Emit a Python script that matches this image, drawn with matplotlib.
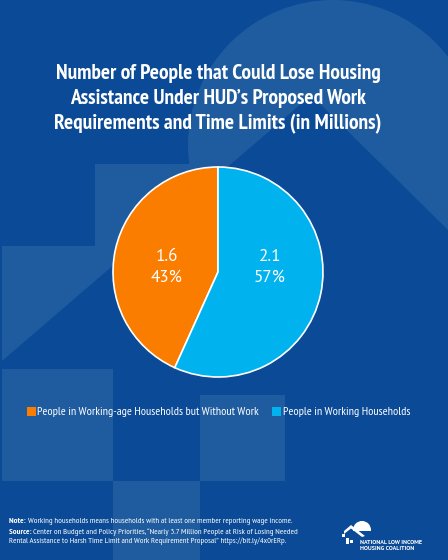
import matplotlib
matplotlib.use("Agg")
import matplotlib.pyplot as plt
from matplotlib import font_manager
from matplotlib.patches import Rectangle, Circle, Polygon, Patch

# ---- data ----
categories = ["People in Working-age Households but Without Work",
              "People in Working Households"]
values = [1.6, 2.1]
pct_labels = ["43%", "57%"]
colors = ["#FA7D00", "#00B3EF"]

title = ("Number of People that Could Lose Housing\n"
         "Assistance Under HUD\u2019s Proposed Work\n"
         "Requirements and Time Limits (in Millions)")
note_head = "Note:"
note_body = "Working households means households with at least one member reporting wage income."
source_head = "Source:"
source_body1 = "Center on Budget and Policy Priorities, \u201cNearly 3.7 Million People at Risk of Losing Needed"
source_body2 = "Rental Assistance to Harsh Time Limit and Work Requirement Proposal\u201d https://bit.ly/4x0rERp."
logo_lines = ["NATIONAL LOW INCOME", "HOUSING COALITION"]

names = {f.name for f in font_manager.fontManager.ttflist}
NARROW = ["PT Sans Narrow" if "PT Sans Narrow" in names else "Roboto", "DejaVu Sans"]
REGULAR = ["PT Sans" if "PT Sans" in names else "Roboto", "DejaVu Sans"]

BASE = "#0a4a97"
LIGHT = "#1e5b9f"

W, H = 448, 560
fig = plt.figure(figsize=(W / 100, H / 100), dpi=100, facecolor=BASE)
renderer = fig.canvas.get_renderer()


def fy(y):
    return 1 - y / H


def width_px(t):
    return t.get_window_extent(renderer).width


def fit(t, target):
    for _ in range(2):
        t.set_fontsize(t.get_fontsize() * target / width_px(t))


# ---- background decoration (pixel coordinates) ----
bg = fig.add_axes([0, 0, 1, 1])
bg.set_xlim(0, W)
bg.set_ylim(H, 0)
bg.axis("off")
bg.add_patch(Rectangle((0, 0), W, H, color=BASE, zorder=0))
bg.add_patch(Circle((333, 145), 145, color=LIGHT, zorder=1, lw=0))
bg.add_patch(Rectangle((95, 164), 240, 400, color=LIGHT, zorder=1, lw=0))
bg.add_patch(Rectangle((2, 246), 100, 320, color=LIGHT, zorder=1, lw=0))

LS = 0.86    # left roof leg: y = 361 - LS*(x-2)
RS = 0.986   # right roof leg: y = 230 - RS*(448-x)


def left_leg(x):
    return 361 - LS * (x - 2)


def right_leg(x):
    return 230 - RS * (448 - x)


apex_x = (361 + LS * 2 - 230 + RS * 448) / (LS + RS)
apex = (apex_x, left_leg(apex_x))
bg.add_patch(Polygon([apex, (470, right_leg(470)), (470, 600), (-10, 600),
                      (-10, left_leg(-10))], closed=True, color=BASE, zorder=2, lw=0))
for (x0, y0, x1, y1) in [(2, 369, 113, 481), (113, 481, 200, 562), (200, 395, 285, 481)]:
    bg.add_patch(Rectangle((x0, y0), x1 - x0, y1 - y0, color=LIGHT, zorder=3, lw=0))

# ---- logo ----
bg.add_patch(Circle((362, 530), 9, color="white", zorder=4, lw=0))
bg.add_patch(Polygon([(351, 531), (375, 531), (375, 545), (351, 545)], closed=True,
                     color=BASE, zorder=4.5, lw=0))
bg.add_patch(Polygon([(351, 525), (365, 536), (362, 537), (351, 528.5), (344, 534), (344, 531)],
                     closed=True, color="white", zorder=5, lw=0))
for (x, y) in [(342, 534), (346, 538), (350, 540), (346, 541)]:
    bg.add_patch(Rectangle((x, y), 3, 3, color="white", zorder=5, lw=0))
logo_fs = 4
for i, line in enumerate(logo_lines):
    t = bg.text(360, 542 + 6 * i, line, color="white", fontsize=logo_fs, fontweight="bold",
                family=REGULAR, va="center", ha="left", zorder=6)
    if i == 0:
        fit(t, 62)
        logo_fs = t.get_fontsize()
    else:
        t.set_fontsize(logo_fs)

# ---- title ----
tt = fig.text(218 / W, fy(99), title, ha="center", va="center", color="white",
              fontsize=13.4, fontweight="bold", family=NARROW, linespacing=1.38)
fit(tt, 328)

# ---- pie (circle radius 105 px, centre (218, 272)) ----
cx, cy, r = 218, 272, 105
ax = fig.add_axes([(cx - r) / W, fy(cy + r), 2 * r / W, 2 * r / H])
wedges, _ = ax.pie(values, colors=colors, startangle=90, counterclock=True,
                   wedgeprops=dict(edgecolor="white", linewidth=1.2))
ax.set_aspect("auto")
ax.set_xlim(-1, 1)
ax.set_ylim(-1, 1)
ax.axis("off")
for w in wedges:
    w.set_clip_on(False)

label_x = [-0.486, 0.495]
for lx, v, p in zip(label_x, values, pct_labels):
    t1 = ax.text(lx, 0.143, f"{v:.1f}", ha="center", va="center", color="white",
                 fontsize=14.5, family=REGULAR)
    t2 = ax.text(lx, -0.057, p, ha="center", va="center", color="white",
                 fontsize=14.5, family=REGULAR)
    fit(t2, 32)
    t1.set_fontsize(t2.get_fontsize())

# ---- legend ----
handles = [Patch(facecolor=c, edgecolor="none") for c in colors]
leg_fs = 8.6
for i in range(4):
    leg = fig.legend(handles, categories, loc="center", bbox_to_anchor=(218.5 / W, fy(412)),
                     ncol=2, frameon=False, handlelength=0.75, handleheight=0.75,
                     handletextpad=0.12, columnspacing=1.1, borderaxespad=0, borderpad=0,
                     prop=dict(family=NARROW, size=leg_fs))
    wpx = leg.get_window_extent(renderer).width
    if i == 3 or abs(wpx - 379) < 1:
        break
    leg.remove()
    leg_fs *= 379 / wpx
for t in leg.get_texts():
    t.set_color("white")

# ---- footnotes ----
probe = fig.text(0, 0, note_head + " " + note_body, fontsize=5.3, family=NARROW)
fit(probe, 278)
foot_fs = probe.get_fontsize()
probe.remove()


def rich_line(x, y, head, body):
    px = x
    if head:
        h = fig.text(px / W, fy(y), head + " ", color="white", fontsize=foot_fs,
                     fontweight="bold", family=NARROW, va="center", ha="left")
        px += width_px(h)
    fig.text(px / W, fy(y), body, color="white", fontsize=foot_fs, family=NARROW,
             va="center", ha="left")


rich_line(9, 521.5, note_head, note_body)
rich_line(9, 532.5, source_head, source_body1)
rich_line(9, 541, None, source_body2)

fig.savefig("out.png", dpi=100, facecolor=BASE)
